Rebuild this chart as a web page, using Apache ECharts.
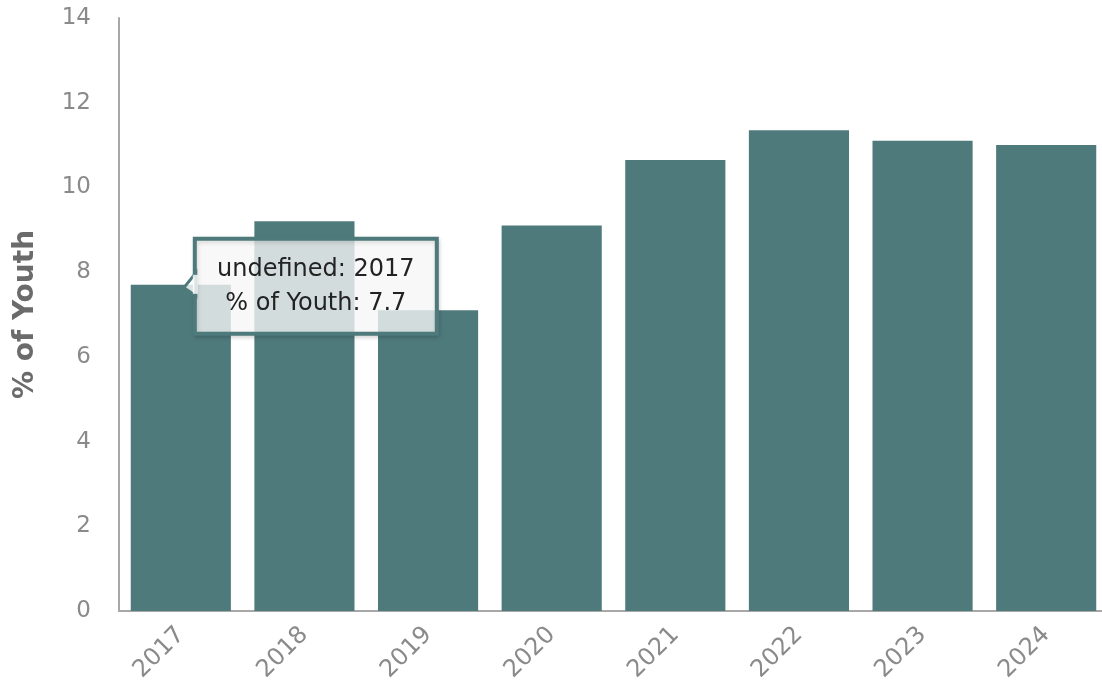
<!DOCTYPE html>
<html>
<head>
<meta charset="utf-8">
<script src="https://cdn.jsdelivr.net/npm/echarts@6/dist/echarts.min.js"></script>
<style>
  html, body { margin: 0; padding: 0; background: #ffffff; overflow: hidden; }
  #chart { width: 1102px; height: 685px; }
</style>
</head>
<body>
<div id="chart"></div>
<script>
// Youth share by year
const years = ['2017', '2018', '2019', '2020', '2021', '2022', '2023', '2024'];
const youthShare = [7.7, 9.2, 7.1, 9.1, 10.65, 11.35, 11.1, 11.0];
const yTicks = { min: 0, max: 14, interval: 2 };
const seriesName = '% of Youth';
const hoverIndex = 0;

const FONT = '"DejaVu Sans", Verdana, sans-serif';
const BAR = '#4f7a7c';

const chart = echarts.init(document.getElementById('chart'), null, { renderer: 'canvas' });

chart.setOption({
  animation: false,
  backgroundColor: '#ffffff',
  // plot runs slightly past the right edge of the canvas
  grid: { left: 119, width: 989, top: 18, bottom: 74, containLabel: false, outerBoundsMode: 'none' },
  xAxis: {
    type: 'category',
    data: years,
    axisLine: { show: true, lineStyle: { color: '#a8a8a8', width: 2 } },
    axisTick: { show: false },
    axisLabel: {
      rotate: 45,
      margin: 20,
      color: '#8a8a8a',
      fontFamily: FONT,
      fontSize: 24
    }
  },
  yAxis: {
    type: 'value',
    min: yTicks.min,
    max: yTicks.max,
    interval: yTicks.interval,
    name: seriesName,
    nameLocation: 'middle',
    nameGap: 79,
    nameTextStyle: { color: '#6b6b6b', fontFamily: FONT, fontSize: 28, fontWeight: 'bold' },
    axisLine: { show: true, lineStyle: { color: '#a8a8a8', width: 2 } },
    axisTick: { show: false },
    splitLine: { show: false },
    axisLabel: { margin: 28, color: '#8a8a8a', fontFamily: FONT, fontSize: 23 }
  },
  series: [{
    name: seriesName,
    type: 'bar',
    data: youthShare,
    barCategoryGap: '19%',
    itemStyle: { color: BAR }
  }]
});

// Hover card for the highlighted year, anchored at the top of its bar
function drawHoverCard() {
  const p = chart.convertToPixel({ seriesIndex: 0 }, [hoverIndex, youthShare[hoverIndex]]);
  const ax = p[0], ay = p[1];
  const left = ax + 14, top = ay - 46, w = 242, h = 95;
  const lines = ['undefined: ' + years[hoverIndex], seriesName + ': ' + youthShare[hoverIndex]];
  const Z = 100;
  chart.setOption({
    graphic: [
      {
        type: 'rect', z: Z,
        shape: { x: left, y: top, width: w, height: h },
        style: {
          fill: 'rgba(255,255,255,0.76)',
          stroke: BAR,
          lineWidth: 4,
          shadowBlur: 4,
          shadowColor: 'rgba(0,0,0,0.15)',
          shadowOffsetX: 1,
          shadowOffsetY: 2
        }
      },
      {
        type: 'polygon', z: Z + 1,
        shape: { points: [[left + 1, ay - 12], [ax + 3, ay + 3], [left + 1, ay + 11]] },
        style: { fill: 'rgba(255,255,255,0.8)', stroke: BAR, lineWidth: 3, lineJoin: 'miter' }
      },
      {
        type: 'rect', z: Z + 2,
        shape: { x: left - 2, y: ay - 10, width: 5, height: 19 },
        style: { fill: 'rgba(255,255,255,0.8)' }
      },
      {
        type: 'text', z: Z + 3,
        style: {
          x: left + w / 2, y: top + 31,
          text: lines[0],
          align: 'center', verticalAlign: 'middle',
          fill: '#222222', font: '24px ' + FONT
        }
      },
      {
        type: 'text', z: Z + 3,
        style: {
          x: left + w / 2, y: top + 65,
          text: lines[1],
          align: 'center', verticalAlign: 'middle',
          fill: '#222222', font: '24px ' + FONT
        }
      }
    ]
  });
}
drawHoverCard();
</script>
</body>
</html>
